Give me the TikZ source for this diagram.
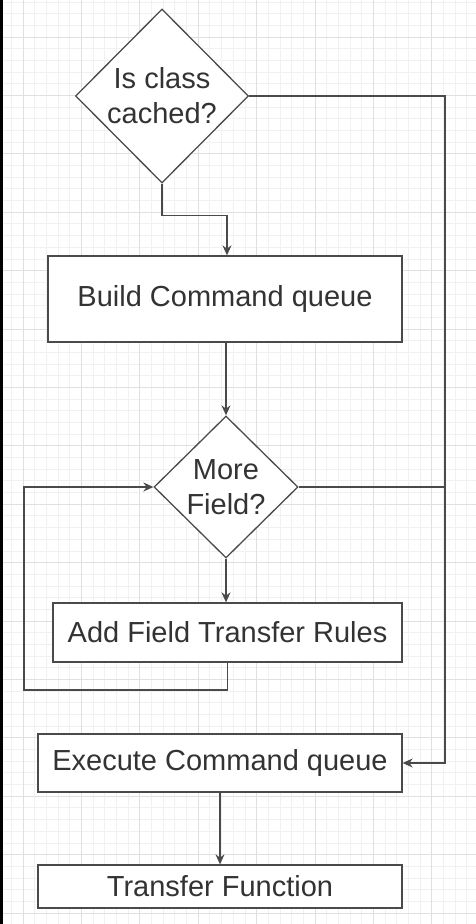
\documentclass[tikz,border=0pt]{standalone}
\usepackage{fontspec}
\setmainfont{Liberation Sans}
\usetikzlibrary{shapes.geometric,arrows.meta}

\definecolor{linegray}{HTML}{4A4A4A}
\definecolor{textgray}{HTML}{333333}
\definecolor{minorgrid}{HTML}{F1F1F1}
\definecolor{majorgrid}{HTML}{E0E0E0}

\begin{document}
\begin{tikzpicture}[x=1pt,y=-1pt]
        \tikzstyle{box} = [draw=linegray,line width=1.3pt,fill=white,text=textgray,
          inner sep=0pt,font=\fontsize{29}{35}\selectfont]
        \tikzstyle{decision} = [box,diamond,align=center]
        \tikzstyle{flow} = [draw=linegray,line width=1.3pt,-{Stealth[length=10pt,width=9pt]}]
        \tikzstyle{wire} = [draw=linegray,line width=1.3pt]

        \useasboundingbox (0,0) rectangle (476,924);
        \begin{scope}
          \clip (0,0) rectangle (476,924);
          % background grid
          \foreach \i in {0,...,44} {
            \draw[minorgrid,line width=0.8pt] ({-35.4+11.68*\i},0) -- ({-35.4+11.68*\i},924);
          }
          \foreach \i in {0,...,81} {
            \draw[minorgrid,line width=0.8pt] (0,{-21.4+11.68*\i}) -- (476,{-21.4+11.68*\i});
          }
          \foreach \i in {0,...,7} {
            \draw[majorgrid,line width=1pt] ({23+58.4*\i},0) -- ({23+58.4*\i},924);
          }
          \foreach \i in {0,...,15} {
            \draw[majorgrid,line width=1pt] (0,{37+58.4*\i}) -- (476,{37+58.4*\i});
          }
          \fill[black] (0,0) rectangle (3,924);
        \end{scope}

        \node[decision,minimum width=173pt,minimum height=174pt] (cached) at (162,96) {Is class\\cached?};
        \node[decision,minimum width=144pt,minimum height=142pt] (more) at (226,487) {More\\Field?};
        \foreach \l/\x/\y/\w/\h/\t in {build/225/299/354/86/Build Command queue,
          add/227.5/632.5/349/59/Add Field Transfer Rules,
          exec/220/763/364/58/Execute Command queue,
          tf/220/886.5/364/43/Transfer Function} {
          \node[box,minimum width=\w pt,minimum height=\h pt] (\l) at (\x,\y) {\t};
        }

        \coordinate (rail) at (cached.east -| 445,0);
        \coordinate (loop) at (24,690);

        \draw[flow] (cached.south) -- ++(0,32) -| ([xshift=2pt]build.north);
        \draw[flow] (build.south -| more.north) -- (more.north);
        \draw[flow] (more.south) -- (more.south |- add.north);
        \draw[flow] (add.south) |- (loop) |- (more.west);
        \draw[flow] (cached.east) -- (rail) |- (exec.east);
        \draw[wire] (more.east) -- (rail |- more.east);
        \draw[flow] (exec) -- (tf);
      \end{tikzpicture}
\end{document}
